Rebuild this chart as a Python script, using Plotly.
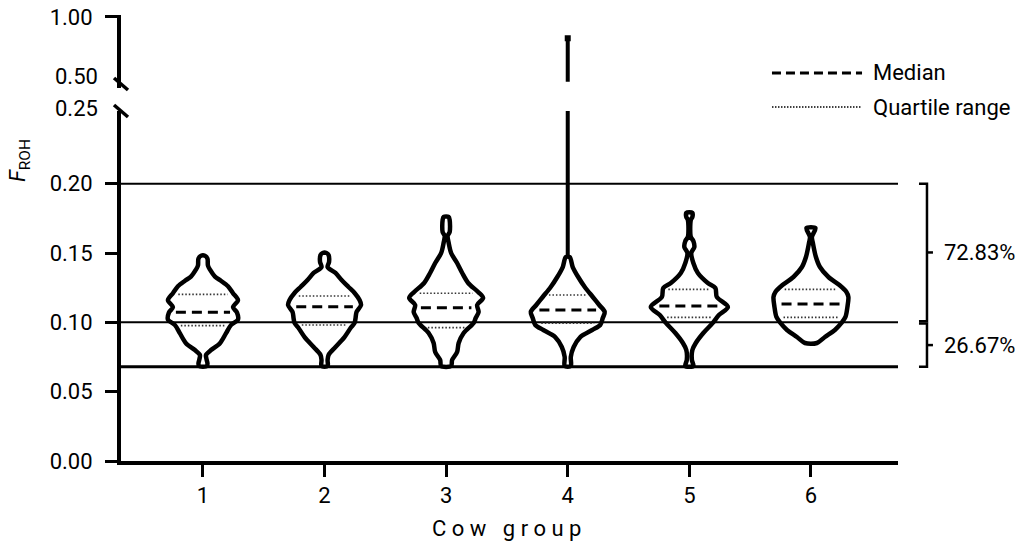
import numpy as np
import plotly.graph_objects as go

groups = [1, 2, 3, 4, 5, 6]
group_labels = ["1", "2", "3", "4", "5", "6"]

# violin outlines: F_ROH value (top -> bottom) and half width in group units
g1_froh = [0.148, 0.146, 0.141, 0.138, 0.133, 0.130, 0.126, 0.121, 0.116, 0.111, 0.107,
           0.102, 0.098, 0.092, 0.085, 0.080, 0.0765, 0.0735, 0.0705, 0.0685]
g1_halfw = [0.016, 0.037, 0.041, 0.058, 0.099, 0.148, 0.206, 0.247, 0.288, 0.247, 0.280,
            0.288, 0.230, 0.189, 0.140, 0.066, 0.025, 0.029, 0.037, 0.033]

g2_froh = [0.150, 0.1486, 0.1435, 0.1399, 0.1356, 0.1305, 0.1255, 0.1212, 0.1161, 0.1125,
           0.1075, 0.1031, 0.0996, 0.0959, 0.0894, 0.0822, 0.0765, 0.0728, 0.0685]
g2_halfw = [0.016, 0.033, 0.037, 0.025, 0.090, 0.140, 0.197, 0.247, 0.288, 0.300,
            0.263, 0.255, 0.247, 0.214, 0.164, 0.090, 0.033, 0.025, 0.025]

g3_froh = [0.176, 0.1738, 0.1652, 0.1623, 0.1572, 0.150, 0.1428, 0.1356, 0.1284, 0.1219,
           0.1176, 0.1125, 0.1075, 0.1031, 0.0996, 0.0923, 0.0851, 0.0786, 0.0728, 0.0685]
g3_halfw = [0.020, 0.029, 0.029, 0.012, 0.021, 0.041, 0.090, 0.132, 0.181, 0.263,
            0.304, 0.255, 0.267, 0.243, 0.226, 0.144, 0.103, 0.090, 0.049, 0.041]

g4_froh = [0.147, 0.1399, 0.1327, 0.1255, 0.1183, 0.1125, 0.1075, 0.1031, 0.0981, 0.0945,
           0.0894, 0.0822, 0.0750, 0.0685]
g4_halfw = [0.016, 0.041, 0.086, 0.140, 0.206, 0.259, 0.304, 0.288, 0.267, 0.201,
            0.103, 0.049, 0.025, 0.025]

g5_froh = [0.1789, 0.176, 0.1738, 0.1616, 0.1587, 0.1543, 0.150, 0.1428, 0.1356, 0.1284,
           0.1248, 0.1183, 0.1111, 0.1053, 0.0996, 0.0923, 0.0851, 0.0801, 0.0728, 0.0685]
g5_halfw = [0.025, 0.025, 0.012, 0.012, 0.033, 0.041, 0.016, 0.033, 0.070, 0.152,
            0.214, 0.226, 0.317, 0.243, 0.193, 0.115, 0.053, 0.025, 0.021, 0.033]

g6_froh = [0.168, 0.1616, 0.1572, 0.1471, 0.1399, 0.1327, 0.1269, 0.1219, 0.1183, 0.1111,
           0.1039, 0.0996, 0.0945, 0.0894, 0.0851]
g6_halfw = [0.037, 0.008, 0.016, 0.041, 0.074, 0.144, 0.234, 0.292, 0.308, 0.300,
            0.284, 0.251, 0.197, 0.115, 0.049]

medians = [0.1072, 0.1113, 0.1106, 0.1089, 0.1118, 0.1132]
q1 = [0.0976, 0.0981, 0.0962, 0.0993, 0.1036, 0.1036]
q3 = [0.1202, 0.1190, 0.1210, 0.1197, 0.1238, 0.1238]

# long tail of group 4 (lower piece runs to the break, upper piece above it)
g4_tail_low = [0.147, 0.2525]
g4_tail_high = [0.47, 0.825]

thresholds = [0.20, 0.10, 0.068]
shares = ["72.83%", "26.67%"]

lower_ticks = [0.0, 0.05, 0.10, 0.15, 0.20]
upper_ticks = [1.0]

FONT = "Roboto, sans-serif"
FS = 22

profiles = [(g1_froh, g1_halfw), (g2_froh, g2_halfw), (g3_froh, g3_halfw),
            (g4_froh, g4_halfw), (g5_froh, g5_halfw), (g6_froh, g6_halfw)]

data = []

# violin outlines
for g, (vals, hw) in zip(groups, profiles):
	vals = np.array(vals)
	hw = np.array(hw)
	xs = np.concatenate([g + hw, (g - hw)[::-1], [g + hw[0]]])
	ys = np.concatenate([vals, vals[::-1], [vals[0]]])
	data.append(go.Scatter(x=xs, y=ys, mode="lines", showlegend=False, hoverinfo="skip",
		line=dict(color="black", width=4.5, shape="spline", smoothing=0.85)))

# quartile (dotted) and median (dashed) lines inside the violins
for g, (vals, hw), m, lo, hi in zip(groups, profiles, medians, q1, q3):
	for level, dash, width, col in [(lo, "1.5px,2px", 1.6, "#333"), (hi, "1.5px,2px", 1.6, "#333"),
	                                (m, "10px,6px", 3, "black")]:
		w = np.interp(level, vals[::-1], hw[::-1]) * 0.8
		data.append(go.Scatter(x=[g - w, g + w], y=[level, level], mode="lines",
			showlegend=False, hoverinfo="skip", line=dict(color=col, width=width, dash=dash)))

data.append(go.Scatter(x=[4, 4], y=g4_tail_low, mode="lines", showlegend=False,
	line=dict(color="black", width=4)))
data.append(go.Scatter(x=[4, 4], y=g4_tail_high, mode="lines", showlegend=False,
	yaxis="y2", line=dict(color="black", width=4)))
data.append(go.Scatter(x=[4], y=[g4_tail_high[1]], mode="markers", showlegend=False,
	yaxis="y2", marker=dict(symbol="square", size=6, color="black")))

shapes = []
# reference lines
for t, w in zip(thresholds, [2, 2, 3]):
	shapes.append(dict(type="line", xref="paper", yref="y", x0=0, x1=1, y0=t, y1=t,
		line=dict(color="black", width=w), layer="below"))

# axis break marks
for y0, y1 in [(0.8587, 0.8318), (0.7982, 0.7713)]:
	shapes.append(dict(type="line", xref="paper", yref="paper", x0=-0.009, x1=0.009,
		y0=y0, y1=y1, line=dict(color="black", width=3.5)))

# brackets on the right
annotations = []
spans = [(thresholds[0], thresholds[1] + 0.0008), (thresholds[1] - 0.0008, thresholds[2])]
for (top, bot), txt in zip(spans, shares):
	shapes.append(dict(type="path", xref="paper", yref="y",
		path=f"M 1.027,{top} L 1.0373,{top} L 1.0373,{bot} L 1.027,{bot}",
		line=dict(color="black", width=2.5)))
	mid = (top + bot) / 2
	shapes.append(dict(type="line", xref="paper", yref="y", x0=1.0373, x1=1.045,
		y0=mid, y1=mid, line=dict(color="black", width=2.5)))
	annotations.append(dict(text=txt, xref="paper", yref="y", x=1.057, y=mid,
		xanchor="left", yanchor="middle", showarrow=False, font=dict(size=FS, color="black")))

# legend drawn by hand
for yy, dash, width, txt in [(0.87, "9px,5px", 3, "Median"), (0.7937, "1.5px,1.5px", 1.6, "Quartile range")]:
	shapes.append(dict(type="line", xref="paper", yref="paper", x0=0.8378, x1=0.9537,
		y0=yy, y1=yy, line=dict(color="black", width=width, dash=dash)))
	annotations.append(dict(text=txt, xref="paper", yref="paper", x=0.9653, y=yy,
		xanchor="left", yanchor="middle", showarrow=False, font=dict(size=FS, color="black")))

# tick labels at the break
annotations.append(dict(text="0.25", xref="paper", yref="y", x=0, y=0.25, xanchor="right",
	yanchor="middle", xshift=-21, yshift=6, showarrow=False, font=dict(size=FS, color="black")))
annotations.append(dict(text="0.50", xref="paper", yref="y2", x=0, y=0.50, xanchor="right",
	yanchor="middle", xshift=-21, yshift=2, showarrow=False, font=dict(size=FS, color="black")))

# y axis title
annotations.append(dict(text="<i>F</i><sub>ROH</sub>", xref="paper", yref="paper", x=-0.13,
	y=0.675, xanchor="center", yanchor="middle", textangle=-90, showarrow=False,
	font=dict(size=FS, color="black")))

axis_style = dict(showline=True, linewidth=4, linecolor="black", ticks="outside",
	ticklen=12, tickwidth=3, tickcolor="black", showgrid=False, zeroline=False,
	tickfont=dict(size=FS, color="black"), automargin=False)

layout = go.Layout(
	width=1024, height=548,
	margin=dict(l=121, r=126, t=15, b=87),
	paper_bgcolor="white", plot_bgcolor="white",
	font=dict(family=FONT, color="black"),
	showlegend=False,
	xaxis=dict(range=[0.326, 6.716], tickvals=groups, ticktext=group_labels, anchor="y",
		title=dict(text="Cow group", font=dict(size=FS), standoff=14), **axis_style),
	yaxis=dict(domain=[0, 0.785], range=[0, 0.2525], tickvals=lower_ticks,
		ticktext=[f"{v:.2f}" for v in lower_ticks], anchor="x", ticklabelstandoff=8, **axis_style),
	yaxis2=dict(domain=[0.836, 1], range=[0.418, 1.016], tickvals=upper_ticks,
		ticktext=[f"{v:.2f}" for v in upper_ticks], anchor="x", ticklabelstandoff=8, **axis_style),
	shapes=shapes,
	annotations=annotations,
)

fig = go.Figure(data=data, layout=layout)

# page has a default body margin; drop it and letter-space the x title like the original
post = ("document.body.style.margin='0';"
        "document.querySelectorAll('.xtitle').forEach(function(t){t.setAttribute('letter-spacing','5.5px');});")
fig.write_html("out.html", post_script=post, config={"displayModeBar": False})
